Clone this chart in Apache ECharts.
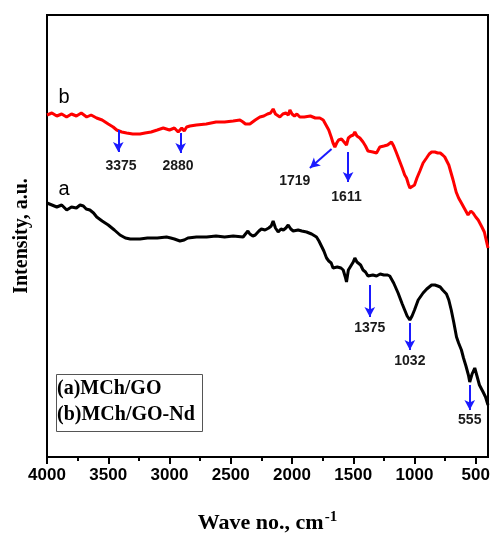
<!DOCTYPE html>
<html><head><meta charset="utf-8">
<script src="https://cdn.jsdelivr.net/npm/echarts@6/dist/echarts.min.js"></script>
<style>html,body{margin:0;padding:0;background:#fff}#c{width:492px;height:533px}</style>
</head><body><div id="c"></div>
<script>
// Curve b (MCh/GO-Nd), red
const waveB = [4000,3960,3920,3880,3840,3800,3760,3720,3676,3640,3595,3550,3500,3460,3431,3390,3350,3300,3241,3200,3150,3100,3051,3000,2960,2929,2900,2880,2860,2833,2780,2700,2620,2550,2480,2425,2400,2380,2344,2300,2262,2230,2200,2175,2154,2135,2120,2099,2075,2050,2030,2017,2000,1980,1960,1936,1900,1850,1810,1773,1745,1718,1700,1680,1665,1650,1635,1620,1596,1575,1555,1540,1520,1500,1487,1470,1446,1420,1400,1380,1365,1340,1310,1283,1250,1220,1188,1170,1150,1125,1100,1080,1065,1050,1038,1025,1000,980,956,930,902,880,860,850,834,810,790,770,753,720,685,660,640,617,590,563,540,522,500,480,467,450,430,415,400];
const intensityB = [342,344,341,343,340,343,341,344,340,342,339,337,333,330,327,325,324,323,323,324,325,327,329,327,329,325,329,326,330,331,332,333,335,335,336,337,335,333,333,337,340,341,343,344,348,343,341,340,343,344,342,347,343,341,343,340,340,341,339,339,337,331,327,320,314,310,314,317,318,315,312,319,321,322,325,321,319,315,311,306,304,305,304,310,311,312,315,311,305,297,289,282,279,273,269,267,272,279,286,294,299,303,305,306,305,304,304,302,300,292,277,265,259,254,248,242,246,244,240,237,234,230,225,217,209];
// Curve a (MCh/GO), black
const waveA = [4000,3960,3920,3880,3839,3800,3760,3730,3703,3680,3650,3620,3594,3550,3500,3450,3404,3360,3320,3241,3180,3100,3024,2990,2960,2915,2880,2850,2780,2697,2620,2550,2480,2399,2380,2360,2344,2320,2300,2270,2250,2220,2190,2170,2154,2135,2113,2090,2070,2050,2031,2010,1990,1950,1920,1881,1840,1800,1780,1760,1740,1718,1700,1680,1665,1650,1630,1600,1582,1565,1555,1540,1520,1500,1487,1470,1440,1420,1400,1380,1365,1340,1310,1280,1250,1220,1202,1170,1134,1100,1080,1060,1038,1020,1000,970,930,900,880,860,834,810,790,770,739,720,700,680,657,640,617,600,580,560,549,530,508,490,470,440,420,400];
const intensityA = [254,252,250,252,247,250,249,252,251,248,247,244,240,236,232,227,222,219,218,218,219,219,220,219,218,216,217,219,220,220,221,220,221,220,223,226,223,221,222,226,228,227,229,231,236,229,225,228,227,229,232,228,226,227,226,225,223,220,216,211,206,199,196,194,189,187,190,189,187,180,175,187,191,195,199,195,192,187,185,181,180,182,181,183,182,182,181,174,164,153,147,141,137,141,147,157,164,168,170,172,172,171,170,167,163,157,147,135,120,114,107,99,91,82,75,83,89,81,72,65,60,52];

// Axis ticks
const majorTicks = [500,1000,1500,2000,2500,3000,3500,4000];
const minorTicks = [750,1250,1750,2250,2750,3250,3750];

// Peak annotations (arrow start/end and label location, in data units)
const annLabels = ['3375','2880','1719','1611','1375','1032','555'];
const annFromX = [3418,2909,1677,1542,1365,1038,549];
const annFromY = [327,324,308,305,172,134,72];
const annToX   = [3418,2909,1854,1542,1365,1038,549];
const annToY   = [305,304,289,275,140,107,47];
const annTextX = [3396,2931,1977,1555,1365,1038,549];
const annTextY = [291,291,276,260,129,96,37];

// Curve letters
const curveLetters = ['b','a'];
const letterX = [3861,3861];
const letterY = [360,268];

const legendLines = ['(a)MCh/GO','(b)MCh/GO-Nd'];

const chart = echarts.init(document.getElementById('c'), null, {renderer:'canvas'});
const zip = (xs, ys) => xs.map((x,i)=>[x, ys[i]]);

const arrowData = annLabels.map((_, i) => [
  {coord:[annFromX[i], annFromY[i]]},
  {coord:[annToX[i], annToY[i]]}
]);

const option = {
  animation:false,
  backgroundColor:'#fff',
  grid:{left:47, right:4, top:15, bottom:76, outerBoundsMode:'none', containLabel:false, show:true, borderColor:'#000', borderWidth:2, backgroundColor:'transparent'},
  xAxis:[{
    type:'value', min:400, max:4000, inverse:true, position:'bottom',
    axisLine:{show:true, lineStyle:{color:'#000', width:2}},
    axisTick:{show:true, customValues:majorTicks, length:7, lineStyle:{color:'#000', width:2}},
    axisLabel:{show:true, customValues:majorTicks, formatter:v=>String(v), color:'#000', fontFamily:'Liberation Sans', fontWeight:'bold', fontSize:17, margin:10},
    splitLine:{show:false},
    name:'{t|Wave no., cm}{s|-1}', nameLocation:'middle', nameGap:53,
    nameTextStyle:{rich:{
      t:{fontFamily:'Liberation Serif', fontWeight:'bold', fontSize:22, color:'#000'},
      s:{fontFamily:'Liberation Serif', fontWeight:'bold', fontSize:15, color:'#000', verticalAlign:'bottom', padding:[0,0,12,1]}
    }}
  },{
    type:'value', min:400, max:4000, inverse:true, position:'bottom',
    axisLine:{show:false},
    axisTick:{show:true, customValues:minorTicks, length:4, lineStyle:{color:'#000', width:2}},
    axisLabel:{show:false},
    splitLine:{show:false}
  }],
  yAxis:{
    type:'value', min:0, max:442,
    axisLine:{show:false}, axisTick:{show:false}, axisLabel:{show:false}, splitLine:{show:false},
    name:'Intensity, a.u.', nameLocation:'middle', nameGap:15,
    nameTextStyle:{fontFamily:'Liberation Serif', fontWeight:'bold', fontSize:20, color:'#000'}
  },
  series:[
    {type:'line', name:'MCh/GO', data:zip(waveA,intensityA), showSymbol:false, lineStyle:{color:'#000', width:3}, itemStyle:{color:'#000'}},
    {type:'line', name:'MCh/GO-Nd', data:zip(waveB,intensityB), showSymbol:false, lineStyle:{color:'#ff0000', width:3}, itemStyle:{color:'#ff0000'}},
    {type:'line', data:[], markLine:{
      silent:true, symbol:['none','arrow'], symbolSize:[8,10],
      label:{show:false},
      lineStyle:{color:'#1a1aff', width:2, type:'solid'},
      data:arrowData
    }},
    {type:'scatter', symbolSize:0, silent:true, itemStyle:{opacity:1},
     data:annLabels.map((t,i)=>[annTextX[i], annTextY[i], t]),
     label:{show:true, position:'inside', formatter:p=>p.value[2], color:'#1a1a1a', fontFamily:'Liberation Sans', fontWeight:'bold', fontSize:14}},
    {type:'scatter', symbolSize:0, silent:true, itemStyle:{opacity:1},
     data:curveLetters.map((t,i)=>[letterX[i], letterY[i], t]),
     label:{show:true, position:'inside', formatter:p=>p.value[2], color:'#000', fontFamily:'Liberation Sans', fontSize:20}}
  ],
  graphic:[
    {type:'rect', left:56, top:374, shape:{width:146, height:57}, style:{fill:'#fff', stroke:'#555', lineWidth:1}},
    {type:'text', left:57, top:379, style:{text:legendLines[0], font:'bold 20px "Liberation Serif"', fill:'#000'}},
    {type:'text', left:57, top:405, style:{text:legendLines[1], font:'bold 20px "Liberation Serif"', fill:'#000'}}
  ]
};
chart.setOption(option);
</script></body></html>
